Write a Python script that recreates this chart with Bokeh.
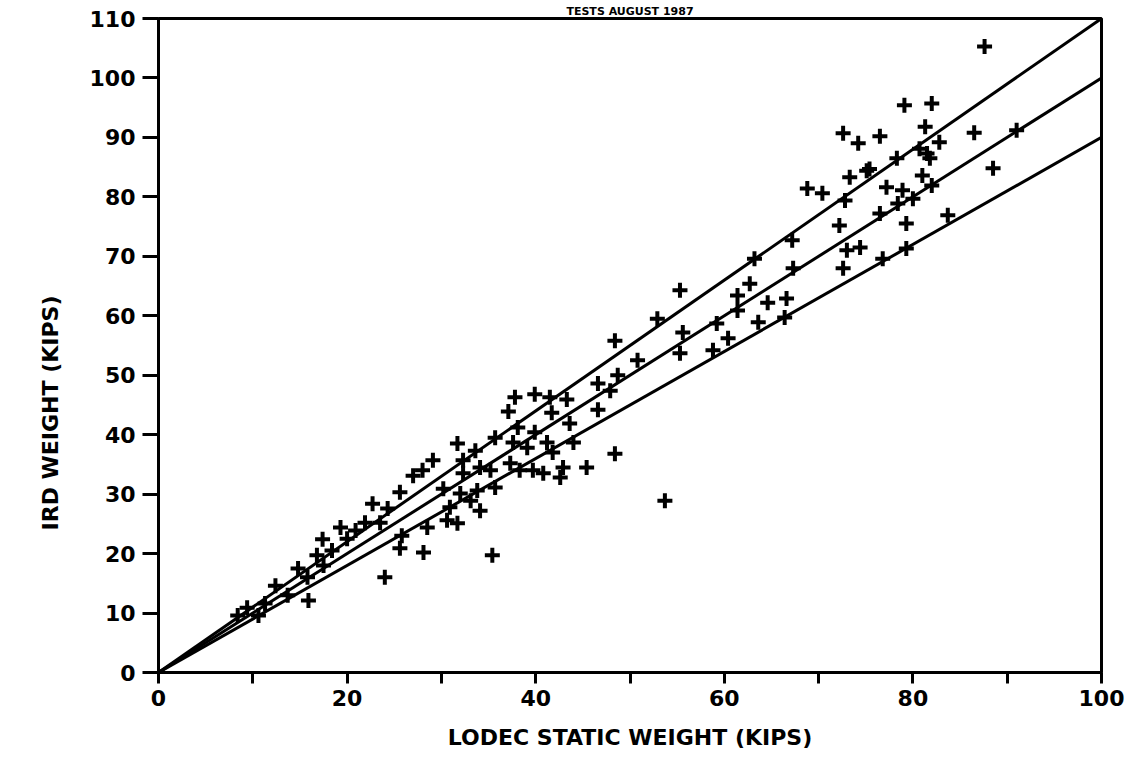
from bokeh.plotting import figure
from bokeh.models import FixedTicker, Range1d, Title
from bokeh.embed import file_html
from bokeh.resources import INLINE

# LODEC static weight (kips) vs IRD weight (kips)
lodec = [
    79.1, 82.0, 81.3, 86.5, 91.0, 87.6, 72.6, 74.2, 76.5, 82.8,
    80.7, 81.8, 78.3, 75.1, 73.3, 88.5, 81.0, 68.8, 70.4, 77.2,
    78.9, 80.0, 78.4, 82.0, 72.8, 76.5, 83.7, 72.2, 79.3, 67.2,
    73.0, 74.4, 63.2, 72.6, 67.3, 79.3, 76.8, 55.3, 52.9, 62.7,
    61.4, 61.4, 64.6, 66.6, 66.4, 63.6, 59.2, 55.6, 60.4, 58.8,
    55.3, 48.4, 50.8, 48.7, 75.4, 81.5, 53.7,
    37.8, 39.9, 37.1, 41.5, 43.3, 41.7, 46.6, 47.9, 46.6, 38.1,
    39.9, 43.6, 35.7, 31.7, 33.6, 37.6, 39.1, 41.2, 44.0, 41.8,
    29.1, 28.0, 27.0, 32.3, 34.1, 32.3, 35.2, 37.3, 38.3, 39.7,
    40.8, 42.9, 42.6, 45.4, 48.4, 25.6, 24.3, 30.2, 32.0, 33.8,
    35.7, 30.9, 34.1, 33.1, 31.7, 28.5, 30.6, 25.8, 25.6, 28.1,
    35.4, 23.5,
    22.7, 17.4, 19.3, 20.9, 21.9, 20.0, 18.4, 16.8, 17.5, 14.8,
    15.8, 12.4, 13.7, 15.9, 9.4, 11.3, 10.6, 8.4, 24.0,
]
ird = [
    95.4, 95.7, 91.8, 90.8, 91.2, 105.3, 90.7, 89.0, 90.2, 89.2,
    88.1, 86.5, 86.5, 84.4, 83.3, 84.8, 83.6, 81.4, 80.6, 81.6,
    81.1, 79.7, 78.9, 81.9, 79.4, 77.2, 76.9, 75.2, 75.5, 72.7,
    71.0, 71.5, 69.6, 68.0, 68.0, 71.3, 69.6, 64.3, 59.5, 65.4,
    63.4, 60.9, 62.2, 62.9, 59.7, 58.9, 58.7, 57.2, 56.2, 54.2,
    53.7, 55.8, 52.5, 50.0, 84.7, 87.3, 28.9,
    46.3, 46.8, 43.9, 46.3, 45.9, 43.7, 48.6, 47.4, 44.2, 41.2,
    40.4, 41.9, 39.5, 38.5, 37.3, 38.7, 37.8, 38.7, 38.7, 37.0,
    35.7, 34.0, 33.1, 35.7, 34.5, 33.5, 34.0, 35.2, 34.0, 34.0,
    33.5, 34.5, 32.8, 34.5, 36.8, 30.3, 27.6, 30.9, 30.1, 30.6,
    31.1, 27.8, 27.2, 28.9, 25.1, 24.4, 25.6, 23.0, 20.9, 20.2,
    19.7, 25.2,
    28.4, 22.4, 24.4, 23.9, 25.2, 22.5, 20.5, 19.7, 18.0, 17.5,
    16.0, 14.6, 13.0, 12.1, 10.9, 11.6, 9.6, 9.6, 16.0,
]

# Reference lines: IRD = ratio * LODEC
line_x = [0, 100]
ratios = [1.1, 1.0, 0.9]

x_ticks = list(range(0, 101, 10))
x_labels = {t: (str(t) if t % 20 == 0 else "") for t in x_ticks}
y_ticks = list(range(0, 111, 10))

x_label = "LODEC STATIC WEIGHT (KIPS)"
y_label = "IRD WEIGHT (KIPS)"
top_text = "TESTS AUGUST 1987"

FONT = "DejaVu Sans"

p = figure(width=1134, height=765, output_backend="svg", toolbar_location=None,
           x_range=Range1d(0, 100), y_range=Range1d(0, 110),
           min_border_left=158, min_border_right=33,
           min_border_top=18, min_border_bottom=93)

p.title.text = top_text
p.title.align = "center"
p.title.offset = -10
p.title.standoff = 1
p.title.text_font = FONT
p.title.text_font_style = "bold"
p.title.text_font_size = "11px"
p.title.text_color = "black"

p.background_fill_color = "white"
p.border_fill_color = "white"
p.outline_line_color = "black"
p.outline_line_width = 3
p.xgrid.visible = False
p.ygrid.visible = False

for r in ratios:
    p.line(line_x, [r * v for v in line_x], line_color="black", line_width=3)

p.scatter(lodec, ird, marker="cross", size=15, line_width=4,
          line_color="black", fill_color="black")

for ax in (p.xaxis, p.yaxis):
    ax.axis_line_width = 3
    ax.axis_line_color = "black"
    ax.major_tick_line_width = 3
    ax.major_tick_line_color = "black"
    ax.major_tick_in = 0
    ax.minor_tick_line_color = None
    ax.major_label_text_font = FONT
    ax.major_label_text_font_style = "bold"
    ax.major_label_text_font_size = "22px"
    ax.major_label_text_color = "black"
    ax.axis_label_text_font = FONT
    ax.axis_label_text_font_style = "bold"
    ax.axis_label_text_font_size = "22px"
    ax.axis_label_text_color = "black"

p.xaxis.ticker = FixedTicker(ticks=x_ticks)
p.xaxis.major_label_overrides = x_labels
p.xaxis.major_tick_out = 11
p.xaxis.major_label_standoff = 6
p.xaxis.axis_label = x_label
p.xaxis.axis_label_standoff = 16

p.yaxis.ticker = FixedTicker(ticks=y_ticks)
p.yaxis.major_tick_out = 16
p.yaxis.major_label_standoff = 7

# y-axis title placed as in the reference (lower than the frame centre)
p.add_layout(Title(text=y_label, align="left", offset=142, standoff=48,
                   text_font=FONT, text_font_style="bold", text_font_size="22px",
                   text_color="black"), "left")

open("out.html", "w").write(file_html(p, INLINE))
